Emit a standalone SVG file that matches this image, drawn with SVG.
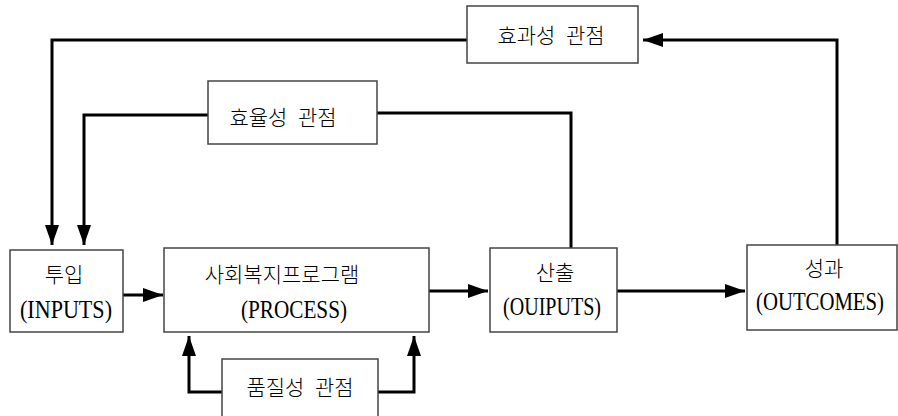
<svg xmlns="http://www.w3.org/2000/svg" width="898" height="416" viewBox="0 0 898 416">
<style>
.box{fill:#fff;stroke:#444;stroke-width:1.5}
.ko{font-family:"Liberation Serif","Noto Sans CJK KR",serif;font-size:21px;fill:#000;text-anchor:middle;white-space:pre;font-weight:300}
.en{font-family:"Liberation Serif",serif;font-size:25px;fill:#000;text-anchor:middle}
.ln{fill:none;stroke:#000;stroke-width:3}
</style>
<defs>
<marker id="ah" markerUnits="userSpaceOnUse" markerWidth="20" markerHeight="14" refX="20" refY="7" orient="auto">
<path d="M0,0 L20,7 L0,14 z" fill="#000"/>
</marker>
</defs>
<rect width="898" height="416" fill="#fff"/>
<g id="connectors">
<path class="ln" d="M837,245 V40 H643" marker-end="url(#ah)"/>
<path class="ln" d="M467,40 H52 V245" marker-end="url(#ah)"/>
<path class="ln" d="M208,115 H84 V245" marker-end="url(#ah)"/>
<path class="ln" d="M377,113 H571 V248"/>
<path class="ln" d="M123,295 H163" marker-end="url(#ah)"/>
<path class="ln" d="M429,291 H488" marker-end="url(#ah)"/>
<path class="ln" d="M617,291 H745" marker-end="url(#ah)"/>
<path class="ln" d="M222,392 H189 V336" marker-end="url(#ah)"/>
<path class="ln" d="M378,392 H414 V336" marker-end="url(#ah)"/>
</g>
<g id="effectiveness">
<rect class="box" x="467" y="6" width="171" height="57"/>
<text class="ko" x="551" y="43">효과성  관점</text>
</g>
<g id="efficiency">
<rect class="box" x="208" y="81" width="169" height="63"/>
<text class="ko" x="283" y="125">효율성  관점</text>
</g>
<g id="inputs">
<rect class="box" x="10" y="250" width="113" height="82"/>
<text class="ko" x="64" y="282">투입</text>
<text class="en" x="66" y="318" textLength="92" lengthAdjust="spacingAndGlyphs">(INPUTS)</text>
</g>
<g id="process">
<rect class="box" x="164" y="248" width="265" height="84"/>
<text class="ko" x="282" y="282">사회복지프로그램</text>
<text class="en" x="294" y="318" textLength="106" lengthAdjust="spacingAndGlyphs">(PROCESS)</text>
</g>
<g id="outputs">
<rect class="box" x="490" y="248" width="127" height="84"/>
<text class="ko" x="555" y="280">산출</text>
<text class="en" x="552" y="315" textLength="98" lengthAdjust="spacingAndGlyphs">(OUIPUTS)</text>
</g>
<g id="outcomes">
<rect class="box" x="747" y="245" width="150" height="85"/>
<text class="ko" x="824" y="276">성과</text>
<text class="en" x="820" y="310" textLength="128" lengthAdjust="spacingAndGlyphs">(OUTCOMES)</text>
</g>
<g id="quality">
<rect class="box" x="222" y="359" width="156" height="70"/>
<text class="ko" x="300" y="395">품질성  관점</text>
</g>
</svg>
